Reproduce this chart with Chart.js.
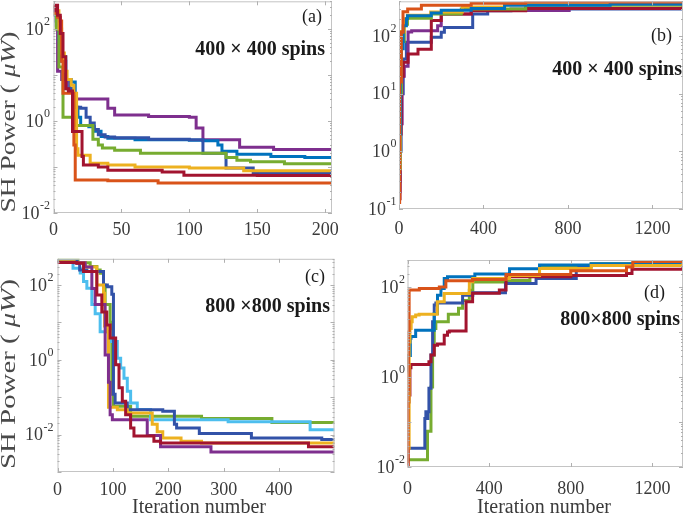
<!DOCTYPE html>
<html><head><meta charset="utf-8">
<script src="https://cdn.jsdelivr.net/npm/chart.js@4.4.0/dist/chart.umd.min.js"></script>
<style>
html,body{margin:0;padding:0;background:#fff;width:685px;height:517px;overflow:hidden;}
canvas{position:absolute;left:0;top:0;}
</style></head><body>
<canvas id="ca" width="685" height="517"></canvas>
<canvas id="cb" width="685" height="517"></canvas>
<canvas id="cc" width="685" height="517"></canvas>
<canvas id="cd" width="685" height="517"></canvas>
<script>
// ---------- data: [iteration, SH power (uW)] breakpoints of stepped curves ----------
// panel (a) 400x400, optimisation
const aRed    = [[0,250],[1,330],[3,200],[5,80],[7,25],[9,5],[11,4.5],[14,0.59],[21,0.17],[22,0.11],[33,0.1],[40,0.085],[80,0.078],[96,0.066],[150,0.065],[205,0.065]];
const aOrange = [[0,220],[3,180],[5,150],[6,20],[7,4],[14,4],[15,0.3],[16,0.052],[40,0.05],[77,0.045],[205,0.044]];
const aYellow = [[0,300],[2,250],[4,100],[6,30],[8,12],[10,8],[13,6],[15,4],[17,0.25],[18,0.18],[27,0.12],[40,0.11],[60,0.1],[100,0.095],[140,0.083],[205,0.083]];
const aGreen  = [[0,220],[2,100],[4,15],[7,1.2],[16,0.8],[29,0.4],[33,0.3],[36,0.26],[45,0.23],[64,0.2],[127,0.16],[135,0.14],[145,0.13],[170,0.117],[205,0.114]];
const aNavy   = [[0,200],[2,120],[4,50],[6,20],[9,8],[12,5],[15,2],[20,1.9],[24,1.2],[27,0.9],[30,0.65],[33,0.5],[38,0.45],[45,0.43],[70,0.4],[100,0.39],[110,0.2],[127,0.095],[147,0.075],[205,0.075]];
const aBlue   = [[0,250],[2,150],[4,60],[6,25],[9,8],[13,7],[16,2],[18,1.2],[20,0.8],[26,0.75],[30,0.6],[35,0.46],[40,0.42],[60,0.39],[100,0.38],[110,0.37],[121,0.3],[124,0.22],[135,0.19],[160,0.17],[185,0.16],[205,0.16]];
const aPurple = [[0,300],[2,150],[3,12],[6,8],[10,5],[15,3],[40,1.9],[45,1.35],[70,1.25],[100,1.2],[105,0.7],[110,0.39],[137,0.27],[162,0.24],[205,0.24]];
// panel (b) 400x400, growth
const bOrange = [[0,0.13],[3,16],[11,116],[19,263],[41,295],[106,340],[342,370],[600,390],[1345,390]];
const bBlue   = [[0,0.5],[3,2],[6,20],[10,60],[20,150],[35,200],[40,225],[153,250],[200,280],[342,300],[500,340],[1000,355],[1345,360]];
const bYellow = [[0,0.5],[5,20],[10,120],[25,200],[40,230],[150,260],[300,320],[500,350],[1345,370]];
const bGreen  = [[0,0.5],[5,10],[12,80],[25,160],[40,203],[153,240],[295,295],[600,340],[1345,365]];
const bRed    = [[0,0.15],[5,2],[10,20],[20,35],[43,49],[90,59],[153,185],[200,240],[342,275],[600,300],[1345,330]];
const bPurple = [[0,0.2],[5,3],[15,20],[25,30],[43,117],[60,123],[183,150],[200,240],[342,277],[806,300],[1345,330]];
const bNavy   = [[0,0.3],[5,1],[10,10],[20,40],[35,78],[153,95],[200,116],[215,141],[349,240],[420,275],[530,295],[1345,325]];
// panel (c) 800x800, optimisation
const cRed    = [[0,400],[35,380],[47,230],[71,54],[80,19],[89,8.5],[95,3.8],[105,0.74],[111,0.18],[117,0.078],[123,0.034],[132,0.015],[138,0.0091],[174,0.0066],[186,0.006],[453,0.0047],[500,0.0047]];
const cPurple = [[0,400],[30,390],[50,300],[62,80],[68,30],[86,1.35],[92,0.25],[95,0.034],[99,0.025],[162,0.0095],[186,0.0047],[277,0.0034],[500,0.0034]];
const cYellow = [[0,420],[30,400],[50,300],[71,100],[83,60],[85,8],[90,5.6],[92,0.054],[108,0.046],[126,0.038],[171,0.019],[180,0.012],[190,0.0081],[223,0.0066],[260,0.006],[500,0.0055]];
const cNavy   = [[0,430],[35,380],[40,250],[53,230],[83,100],[90,90],[98,56],[101,0.12],[104,0.07],[126,0.046],[190,0.042],[211,0.019],[215,0.015],[256,0.0107],[350,0.0081],[477,0.0074],[500,0.0074]];
const cCyan   = [[0,440],[28,280],[41,210],[47,123],[53,81],[62,30],[68,17],[77,5.6],[95,3.1],[108,1.1],[114,0.6],[120,0.32],[126,0.145],[132,0.07],[144,0.047],[168,0.025],[308,0.022],[456,0.0135],[500,0.0135]];
const cGreen  = [[0,470],[37,400],[46,390],[59,310],[71,250],[77,205],[83,100],[86,30],[95,10],[98,0.12],[101,0.057],[132,0.031],[260,0.027],[387,0.021],[500,0.021]];
// panel (d) 800x800, growth
const dOrange = [[0,0.011],[3,0.5],[5,10],[8,86],[58,93],[156,100],[188,138],[318,148],[483,190],[800,230],[1073,280],[1104,370],[1350,390]];
const dYellow = [[0,0.026],[8,6],[12,12],[18,17],[23,22],[40,24],[57,25],[146,47],[180,72],[290,72],[303,132],[320,155],[500,180],[647,260],[900,300],[1350,370]];
const dBlue   = [[0,1.3],[5,3],[14,7.3],[17,8],[40,11],[131,26],[147,66],[164,93],[180,155],[196,170],[327,170],[330,195],[500,257],[647,310],[900,330],[1350,360]];
const dRed    = [[0,0.011],[3,0.28],[8,0.4],[12,1.6],[17,1.9],[98,1.9],[105,2.2],[115,3.1],[131,5.1],[147,5.4],[180,8.5],[196,10],[205,10.5],[287,47],[319,73],[450,86],[483,170],[800,180],[1073,200],[1100,250],[1350,350]];
const dNavy   = [[0,0.026],[82,0.026],[85,0.12],[90,0.17],[95,0.12],[100,0.17],[105,0.56],[115,3.1],[123,17],[131,40],[139,44],[253,44],[270,66],[300,66],[320,75],[450,75],[480,120],[630,155],[827,240],[840,300],[1350,340]];
const dGreen  = [[0,0.0145],[90,0.0145],[98,0.062],[115,0.6],[123,3.1],[131,12],[139,17],[200,25],[250,34],[270,50],[303,85],[320,130],[500,140],[600,186],[647,280],[900,330],[1350,370]];

// tick labels
const aXTicks = [0,50,100,150,200];
const bXTicks = [0,400,800,1200];
const cXTicks = [0,100,200,300,400];
const dXTicks = [0,400,800,1200];
const aYPow = [-2,0,2];
const bYPow = [-1,0,1,2];
const cYPow = [-2,0,2];
const dYPow = [-2,0,2];

const COL = {blue:'#0072BD', orange:'#D95319', yellow:'#EDB120', purple:'#7E2F8E',
             green:'#77AC30', cyan:'#4DBEEE', red:'#A2142F', navy:'#3252A8'};
const SERIF = '"Liberation Serif","DejaVu Serif",serif';

const framePlugin = {
  id: 'frame',
  afterDraw(chart, args, o) {
    const {ctx, chartArea: a} = chart;
    const x = chart.scales.x, y = chart.scales.y;
    ctx.save();
    // box
    ctx.strokeStyle = '#c4c4c4'; ctx.lineWidth = 1;
    ctx.strokeRect(a.left + 0.5, a.top + 0.5, a.right - a.left - 1, a.bottom - a.top - 1);
    ctx.strokeStyle = '#b0b0b0';
    ctx.beginPath();
    for (const t of o.xTicks) {
      const px = Math.round(x.getPixelForValue(t)) + 0.5;
      ctx.moveTo(px, a.bottom); ctx.lineTo(px, a.bottom - 4);
      ctx.moveTo(px, a.top); ctx.lineTo(px, a.top + 4);
    }
    const e0 = Math.floor(Math.log10(y.min)), e1 = Math.ceil(Math.log10(y.max));
    for (let e = e0; e <= e1; e++) {
      for (let m = 1; m <= 9; m++) {
        const v = m * Math.pow(10, e);
        if (v < y.min * 0.999 || v > y.max) continue;
        const py = Math.round(y.getPixelForValue(v)) + 0.5;
        const len = m === 1 ? 4 : 2;
        ctx.moveTo(a.left, py); ctx.lineTo(a.left + len, py);
        ctx.moveTo(a.right, py); ctx.lineTo(a.right - len, py);
      }
    }
    ctx.stroke();
    // x tick labels
    ctx.fillStyle = '#3a3a3a';
    ctx.font = '18px ' + SERIF;
    ctx.textAlign = 'center'; ctx.textBaseline = 'middle';
    for (const t of o.xTicks) ctx.fillText(String(t), x.getPixelForValue(t), o.xLabelY);
    // y tick labels 10^n
    for (const p of o.yPow) {
      const py = y.getPixelForValue(Math.pow(10, p));
      const ex = p < 0 ? '-' + Math.abs(p) : String(p);
      ctx.font = '12px ' + SERIF;
      const w2 = ctx.measureText(ex).width;
      const xr = a.left - o.yGap;
      ctx.textAlign = 'left'; ctx.textBaseline = 'middle';
      ctx.fillText(ex, xr - w2, py - 7);
      ctx.font = '18px ' + SERIF;
      const w1 = ctx.measureText('10').width;
      ctx.fillText('10', xr - w2 - w1 - 0.5, py + 1);
    }
    ctx.fillStyle = '#1a1a1a';
    // panel label
    ctx.font = '18px ' + SERIF;
    ctx.textAlign = 'right';
    ctx.fillText(o.tag[0], o.tag[1], o.tag[2]);
    // spins note
    ctx.font = 'bold 20px ' + SERIF;
    ctx.fillText(o.note[0], o.note[1], o.note[2]);
    // x title
    if (o.xTitle) {
      ctx.fillStyle = '#3a3a3a';
      ctx.font = '20px ' + SERIF; ctx.textAlign = 'center';
      ctx.fillText(o.xTitle[0], o.xTitle[1], o.xTitle[2]);
    }
    // y title with italic mu W
    if (o.yTitle) {
      ctx.fillStyle = '#4a4a4a';
      const segs = [['SH Power ( ', '20px ' + SERIF], ['\u03BCW', 'italic 20px ' + SERIF], [')', '20px ' + SERIF]];
      let tot = 0;
      for (const s of segs) { ctx.font = s[1]; tot += ctx.measureText(s[0]).width; }
      const [cx, cy, len] = o.yTitle;
      ctx.translate(cx, cy); ctx.rotate(-Math.PI / 2);
      const k = len / tot;
      ctx.scale(k, 1);
      let xx = -tot / 2;
      ctx.textAlign = 'left'; ctx.textBaseline = 'middle';
      for (const s of segs) { ctx.font = s[1]; ctx.fillText(s[0], xx, 0); xx += ctx.measureText(s[0]).width; }
    }
    ctx.restore();
  }
};

function ds(pts, color) {
  return { data: pts.map(p => ({x: p[0], y: p[1]})), borderColor: color, borderWidth: 3,
           stepped: 'before', pointRadius: 0, fill: false, tension: 0, borderJoinStyle: 'miter' };
}

function make(id, rect, xmax, ymin, ymax, sets, frame) {
  new Chart(document.getElementById(id), {
    type: 'line',
    data: { datasets: sets },
    plugins: [framePlugin],
    options: {
      responsive: false, animation: false, devicePixelRatio: 1,
      layout: { padding: { left: rect[0], top: rect[1], right: 685 - rect[2], bottom: 517 - rect[3] } },
      scales: {
        x: { type: 'linear', min: 0, max: xmax, display: false },
        y: { type: 'logarithmic', min: ymin, max: ymax, display: false }
      },
      plugins: { legend: { display: false }, tooltip: { enabled: false }, frame: frame }
    }
  });
}

make('ca', [53.5, 1.3, 332, 213], 205, 0.01, 400,
  [ds(aRed, COL.red), ds(aOrange, COL.orange), ds(aYellow, COL.yellow), ds(aGreen, COL.green),
   ds(aNavy, COL.navy), ds(aBlue, COL.blue), ds(aPurple, COL.purple)],
  { xTicks: aXTicks, yPow: aYPow, xLabelY: 230, yGap: 3.5, tag: ['(a)', 322, 17],
    note: ['400 \u00D7 400 spins', 325, 50], yTitle: [10, 122, 181] });

make('cb', [399, 1.3, 683, 209], 1345, 0.1, 400,
  [ds(bOrange, COL.orange), ds(bBlue, COL.blue), ds(bYellow, COL.yellow), ds(bGreen, COL.green),
   ds(bRed, COL.red), ds(bPurple, COL.purple), ds(bNavy, COL.navy)],
  { xTicks: bXTicks, yPow: bYPow, xLabelY: 229, yGap: 2.5, tag: ['(b)', 672, 36],
    note: ['400 \u00D7 400 spins', 682, 70] });

make('cc', [57.5, 258.8, 334.5, 472], 500, 0.001, 500,
  [ds(cRed, COL.red), ds(cPurple, COL.purple), ds(cYellow, COL.yellow), ds(cNavy, COL.navy),
   ds(cCyan, COL.cyan), ds(cGreen, COL.green)],
  { xTicks: cXTicks, yPow: cYPow, xLabelY: 490, yGap: 4, tag: ['(c)', 325, 277],
    note: ['800 \u00D7800 spins', 330, 307], xTitle: ['Iteration number', 199, 508], yTitle: [10, 374, 190] });

make('cd', [407.5, 260, 683, 467], 1350, 0.01, 400,
  [ds(dOrange, COL.orange), ds(dYellow, COL.yellow), ds(dBlue, COL.blue), ds(dRed, COL.red),
   ds(dNavy, COL.navy), ds(dGreen, COL.green)],
  { xTicks: dXTicks, yPow: dYPow, xLabelY: 489, yGap: 2.5, tag: ['(d)', 665, 293],
    note: ['800\u00D7800 spins', 680, 320], xTitle: ['Iteration number', 544, 508] });
</script>
</body></html>
